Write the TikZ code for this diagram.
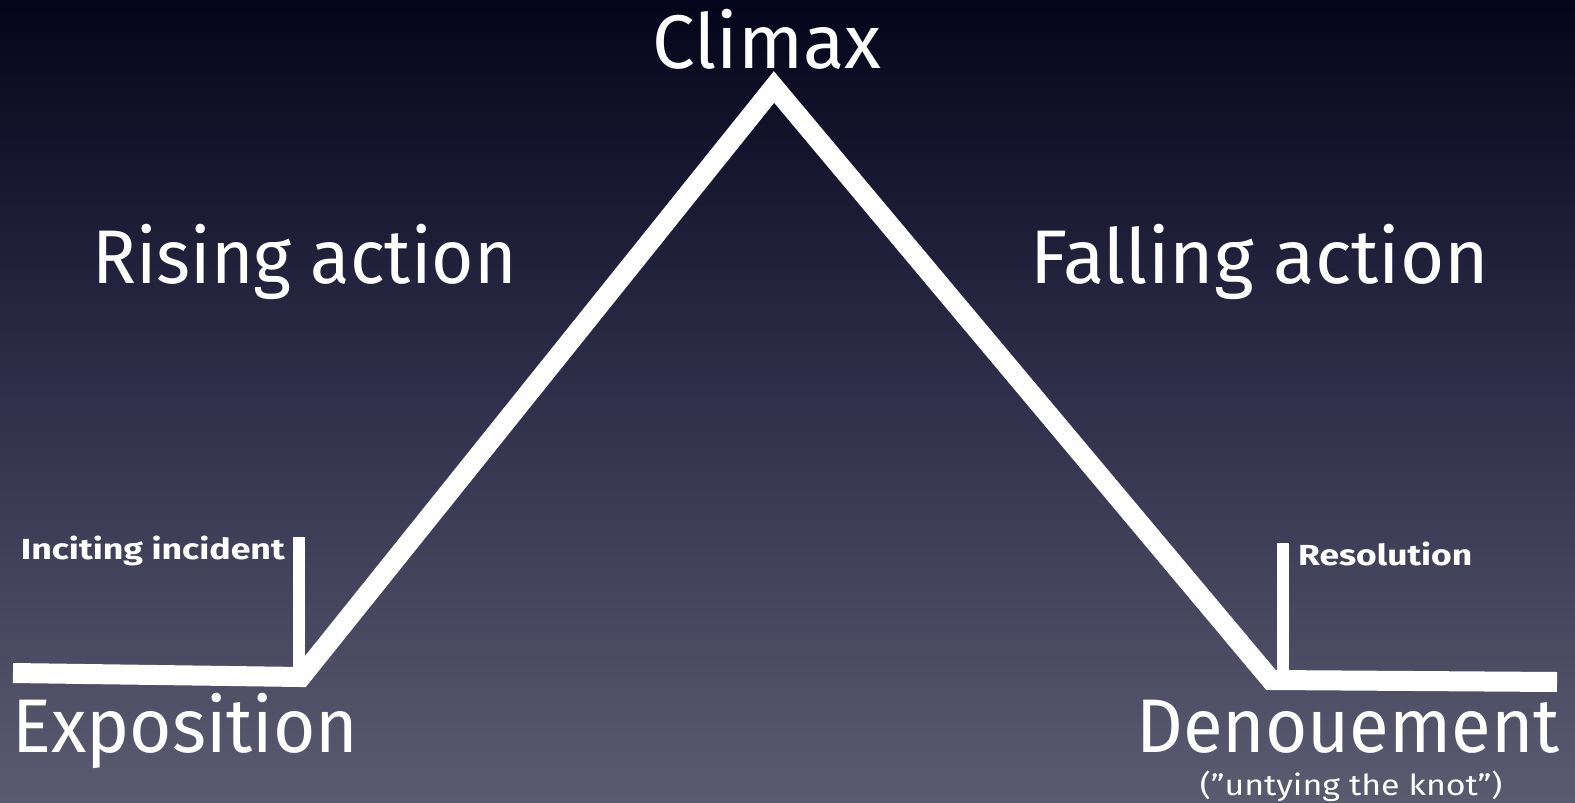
\documentclass[tikz,border=0pt]{standalone}
\usepackage{fontspec}
\usepackage{graphicx}
\setmainfont{Fira Sans}
\usetikzlibrary{calc}
\definecolor{bgtop}{HTML}{04041A}
\definecolor{bgmid}{HTML}{31304C}
\definecolor{bgbot}{HTML}{5B5B70}
\tikzset{
  bigtext/.style={text=white,inner sep=0pt,font=\fontsize{76}{80}\selectfont},
  smalltext/.style={text=white,inner sep=0pt,font=\bfseries\fontsize{29}{32}\selectfont},
  notetext/.style={text=white,inner sep=0pt,font=\fontsize{29}{32}\selectfont},
  arc/.style={white,line width=20pt,line join=miter,miter limit=10},
  tick/.style={white,line width=12pt},
}
\begin{document}
\begin{tikzpicture}[x=1pt,y=-1pt]
\shade[top color=bgtop,bottom color=bgbot,middle color=bgmid] (0,0) rectangle (1575,803);
\useasboundingbox (0,0) rectangle (1575,803);
\coordinate (e0) at (13,673);
\coordinate (e1) at (301,677);
\coordinate (c) at (774,87);
\coordinate (d1) at (1271,680);
\coordinate (d2) at (1557,682);
\coordinate (it) at (299,537);
\coordinate (ib) at (299,668);
\coordinate (rt) at (1283,543);
\coordinate (rb) at (1283,671);
\draw[arc] (e0) -- (e1) -- (c) -- (d1) -- (d2);
\draw[tick] (it) -- (ib);
\draw[tick] (rt) -- (rb);
\node[bigtext,anchor=base] (climax) at (767,68) {Climax};
\node[bigtext,anchor=base west] (rising) at (92,283) {\scalebox{0.956}[1]{Rising action}};
\node[bigtext,anchor=base west] (falling) at (1030,283) {Falling action};
\node[bigtext,anchor=base west] (expo) at (12,752) {\scalebox{0.957}[1]{Exposition}};
\node[bigtext,anchor=base east] (denou) at (1560,752) {\scalebox{0.955}[1]{Denouement}};
\node[notetext,anchor=base] (knot) at (1351,795) {\scalebox{1.17}[1]{("untying the knot”)}};
\node[smalltext,anchor=base east] (inc) at (285,559) {\scalebox{1.23}[1]{Inciting incident}};
\node[smalltext,anchor=base west] (res) at (1298,565) {\scalebox{1.22}[1]{Resolution}};
\end{tikzpicture}
\end{document}
